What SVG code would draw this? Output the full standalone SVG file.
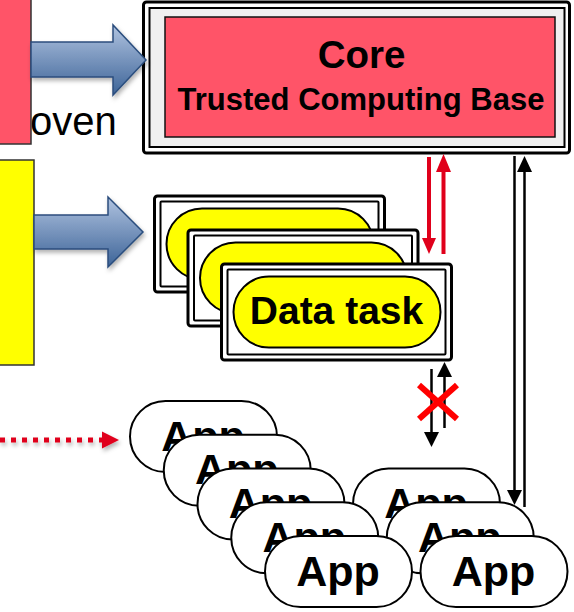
<svg xmlns="http://www.w3.org/2000/svg" width="574" height="612" viewBox="0 0 574 612">
<style>
  .lbl{font-family:"Liberation Sans",Arial,sans-serif;font-weight:bold;fill:#000;text-anchor:middle}
  .frameO{fill:#fff;stroke:#000;stroke-width:3}
  .frameI{fill:#fff;stroke:#000;stroke-width:2}
  .dpill{fill:#ffff00;stroke:#000;stroke-width:2}
  .apill{fill:#fff;stroke:#000;stroke-width:2}
  .blue{fill:url(#bg);stroke:#2b4e7e;stroke-width:1.5;filter:url(#sh)}
  .red{stroke:#e0001b;stroke-width:4;fill:none}
  .blk{stroke:#000;stroke-width:2.5;fill:none}
</style>
<defs>
  <linearGradient id="bg" x1="0" y1="0" x2="0" y2="1">
    <stop offset="0" stop-color="#b0c3e0"/>
    <stop offset="1" stop-color="#3d6498"/>
  </linearGradient>
  <filter id="sh" x="-20%" y="-20%" width="140%" height="160%">
    <feDropShadow dx="1.5" dy="3" stdDeviation="2" flood-color="#000" flood-opacity="0.3"/>
  </filter>
  <g id="app">
    <rect class="apill" x="0" y="0" width="147" height="71" rx="35.5"/>
    <text class="lbl" x="73" y="49.5" font-size="43">App</text>
  </g>
  <g id="frame">
    <rect class="frameO" x="0" y="0" width="230" height="96" rx="3"/>
    <rect class="frameI" x="6" y="5.5" width="218" height="85" rx="1"/>
    <rect class="dpill" x="12" y="12.5" width="207" height="71" rx="35.5"/>
  </g>
</defs>

<text x="30" y="135" font-family="'Liberation Sans',Arial,sans-serif" font-size="40" fill="#000">oven</text>

<g id="left-red">
  <rect x="-2" y="-2" width="33" height="146" fill="#ff5468" stroke="#333" stroke-width="1.5"/>
</g>
<g id="left-yellow">
  <rect x="-2" y="160" width="36" height="205" fill="#ffff00" stroke="#333" stroke-width="1.5"/>
</g>

<g id="core">
  <rect x="143.5" y="2" width="426" height="151" rx="3" fill="#fff" stroke="#000" stroke-width="3"/>
  <rect x="149.5" y="8" width="415" height="139" fill="#f0f0f0" stroke="#000" stroke-width="2"/>
  <rect x="165" y="17" width="390" height="120" fill="#ff5468" stroke="#111" stroke-width="1.5"/>
  <text class="lbl" x="361.5" y="68" font-size="38.5">Core</text>
  <text class="lbl" x="361" y="110" font-size="31">Trusted Computing Base</text>
</g>

<g id="data-tasks">
  <use href="#frame" x="154.5" y="196"/>
  <use href="#frame" x="188" y="230"/>
  <use href="#frame" x="221.5" y="264"/>
  <text class="lbl" x="336.5" y="324" font-size="39">Data task</text>
</g>

<g id="apps">
  <use href="#app" x="353" y="468.5"/>
  <use href="#app" x="386.75" y="502.25"/>
  <use href="#app" x="420.5" y="536"/>
  <use href="#app" x="130" y="401"/>
  <use href="#app" x="163.75" y="434.75"/>
  <use href="#app" x="197.5" y="468.5"/>
  <use href="#app" x="231.25" y="502.25"/>
  <use href="#app" x="265" y="536"/>
</g>

<g id="connectors">
  <polygon class="blue" points="31,42 113,42 113,25 146,60 113,95 113,77 31,77"/>
  <polygon class="blue" points="34,215 108,215 108,197 143,232 108,267 108,249 34,249"/>

  <g filter="url(#sh)">
    <line x1="0" y1="440" x2="104" y2="440" stroke="#e0001b" stroke-width="5" stroke-dasharray="5 6"/>
    <polygon points="102,431.5 119,440 102,448.5" fill="#e0001b"/>
  </g>

  <line class="red" x1="429" y1="157" x2="429" y2="240"/>
  <polygon points="422,238 436,238 429,254" fill="#e0001b"/>
  <line class="red" x1="443.5" y1="254" x2="443.5" y2="170"/>
  <polygon points="436,172 451,172 443.5,154" fill="#e0001b"/>

  <line class="blk" x1="514.5" y1="156" x2="514.5" y2="492"/>
  <polygon points="507,490 522,490 514.5,505" fill="#000"/>
  <line class="blk" x1="524.5" y1="507" x2="524.5" y2="170"/>
  <polygon points="517,172 532,172 524.5,156" fill="#000"/>

  <line class="blk" x1="431.5" y1="369" x2="431.5" y2="434"/>
  <polygon points="424,432 439,432 431.5,447" fill="#000"/>
  <line class="blk" x1="444.5" y1="428" x2="444.5" y2="375"/>
  <polygon points="437,377 452,377 444.5,362" fill="#000"/>

  <g stroke="#ff0000" stroke-width="6">
    <line x1="419" y1="385" x2="457" y2="419"/>
    <line x1="419" y1="419" x2="457" y2="385"/>
  </g>
</g>
</svg>
